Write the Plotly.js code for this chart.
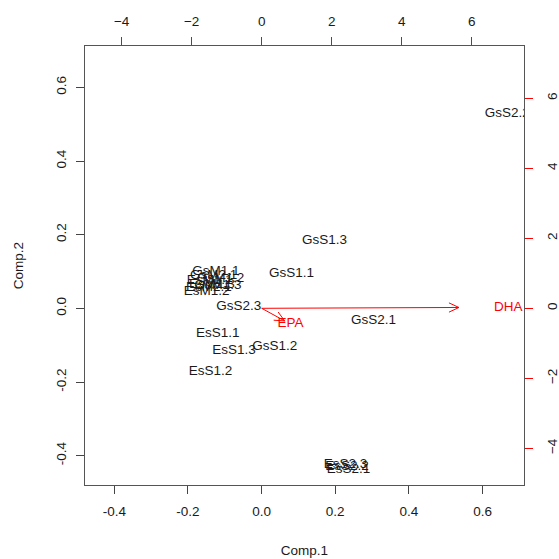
<!DOCTYPE html>
<html>
<head>
<meta charset="utf-8">
<script src="https://cdn.plot.ly/plotly-3.0.1.min.js"></script>
<style>html,body{margin:0;padding:0;background:#fff;}#chart{width:559px;height:559px;}</style>
</head>
<body>
<div id="chart"></div>
<script>
// Sample scores (Comp.1, Comp.2)
var sampleNames = ["GsS2.2","GsS1.3","GsS1.1","GsS2.1","GsS2.3","EsS1.1","EsS1.3","GsS1.2","EsS1.2",
                   "EsS2.3","EsS2.2","EsS2.1",
                   "GsM1.1","GsM2.1","GsM1.2","EsM1.1","EsM1.3","GsM1.3","EsM2.1","EsM1.2"];
var comp1 = [0.667,0.171,0.081,0.304,-0.062,-0.119,-0.075,0.036,-0.139,
             0.228,0.232,0.236,
             -0.124,-0.130,-0.111,-0.141,-0.135,-0.119,-0.143,-0.149];
var comp2 = [0.528,0.183,0.095,-0.033,0.004,-0.068,-0.114,-0.103,-0.173,
             -0.424,-0.430,-0.438,
             0.101,0.090,0.082,0.076,0.065,0.063,0.057,0.046];
// Variable loadings
var varNames = ["DHA","EPA"];
var load1 = [7.04, 0.82];
var load2 = [0.03, -0.45];

var xRange = [-0.4795, 0.7125];
var yRange = [-0.4795, 0.7125];
var x2Range = [-5.045, 7.49];
var y2Range = [-5.045, 7.49];
var bottomTicks = [-0.4,-0.2,0.0,0.2,0.4,0.6];
var topTicks = [-4,-2,0,2,4,6];

var W = 559, H = 559, mL = 85, mR = 35, mT = 46, mB = 74;
var pxPerX2 = (W - mL - mR) / (x2Range[1] - x2Range[0]);
var pxPerY2 = (H - mT - mB) / (y2Range[1] - y2Range[0]);

// arrows (shaft to 0.8*loading, open head)
var ax = [], ay = [];
var headLen = 11, ang = 25 * Math.PI / 180;
for (var i = 0; i < varNames.length; i++) {
  var ex = 0.8 * load1[i], ey = 0.8 * load2[i];
  ax.push(0, ex, null); ay.push(0, ey, null);
  var dxp = ex * pxPerX2, dyp = ey * pxPerY2;
  var th = Math.atan2(dyp, dxp);
  [th + Math.PI - ang, th + Math.PI + ang].forEach(function (a) {
    ax.push(ex, ex + headLen * Math.cos(a) / pxPerX2, null);
    ay.push(ey, ey + headLen * Math.sin(a) / pxPerY2, null);
  });
}

var fontFam = '"Liberation Sans", Arial, Helvetica, sans-serif';
var fs = 13.5;
var traces = [
  {x: comp1, y: comp2, text: sampleNames, mode: 'text', type: 'scatter',
   textposition: 'middle center', cliponaxis: true, hoverinfo: 'none',
   textfont: {family: fontFam, size: fs, color: '#1a1a1a'}, xaxis: 'x', yaxis: 'y'},
  {x: ax, y: ay, mode: 'lines', type: 'scatter', line: {color: '#ff0000', width: 1},
   hoverinfo: 'none', xaxis: 'x2', yaxis: 'y2'},
  {x: load1, y: load2, text: varNames, mode: 'text', type: 'scatter',
   textposition: 'middle center', cliponaxis: true, hoverinfo: 'none',
   textfont: {family: fontFam, size: fs, color: '#ff0000'}, xaxis: 'x2', yaxis: 'y2'}
];

var axisCommon = {showgrid: false, zeroline: false, ticks: 'outside', ticklen: 8,
  tickwidth: 1, tickfont: {family: fontFam, size: fs, color: '#1a1a1a'}};

var layout = {
  width: W, height: H, showlegend: false,
  margin: {l: mL, r: mR, t: mT, b: mB, pad: 0},
  paper_bgcolor: '#fff', plot_bgcolor: '#fff',
  font: {family: fontFam, size: fs, color: '#1a1a1a'},
  xaxis: Object.assign({}, axisCommon, {range: xRange, tickvals: bottomTicks,
    ticktext: bottomTicks.map(function (v) { return v.toFixed(1); }),
    tickcolor: '#444', showline: true, mirror: true, linecolor: '#555', linewidth: 1,
    ticklabelstandoff: 6,
    title: {text: 'Comp.1', font: {family: fontFam, size: fs, color: '#1a1a1a'}, standoff: 27}}),
  yaxis: Object.assign({}, axisCommon, {range: yRange, tickvals: bottomTicks,
    ticktext: bottomTicks.map(function (v) { return v.toFixed(1); }),
    tickangle: -90, tickcolor: '#444', showline: true, mirror: true, linecolor: '#555', linewidth: 1,
    ticklabelstandoff: 5,
    title: {text: 'Comp.2', font: {family: fontFam, size: fs, color: '#1a1a1a'}, standoff: 26}}),
  xaxis2: Object.assign({}, axisCommon, {range: x2Range, tickvals: topTicks,
    overlaying: 'x', side: 'top', anchor: 'y', tickcolor: '#ff0000', showline: false,
    ticklabelstandoff: 6}),
  yaxis2: Object.assign({}, axisCommon, {range: y2Range, tickvals: topTicks,
    overlaying: 'y', side: 'right', anchor: 'x', tickangle: -90, tickcolor: '#ff0000', showline: false,
    ticklabelstandoff: 8})
};

Plotly.newPlot('chart', traces, layout, {displayModeBar: false, staticPlot: true});
</script>
</body>
</html>
